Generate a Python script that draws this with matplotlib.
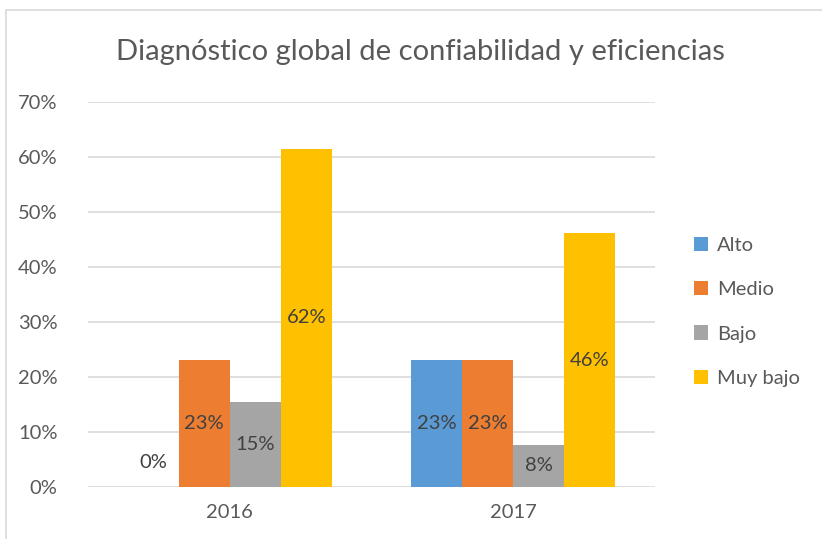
import matplotlib

matplotlib.use("Agg")
import matplotlib.pyplot as plt
from matplotlib.patches import Rectangle
from matplotlib.ticker import PercentFormatter
import numpy as np

years = ["2016", "2017"]
levels = ["Alto", "Medio", "Bajo", "Muy bajo"]
alto = [0.0, 0.2308]
medio = [0.2308, 0.2308]
bajo = [0.1538, 0.0769]
muy_bajo = [0.6154, 0.4615]
colors = ["#5B9BD5", "#ED7D31", "#A5A5A5", "#FFC000"]

plt.rcParams["font.family"] = ["Lato", "DejaVu Sans"]

fig = plt.figure(figsize=(8.22, 5.39), dpi=100)
ax = fig.add_axes([88 / 822, 1 - 487 / 539, (655 - 88) / 822, (487 - 102) / 539])

# outer chart border, like the Excel chart frame
fig.patches.append(
    Rectangle((6 / 822, -0.1), 1.2, 1.1 - 10 / 539, transform=fig.transFigure,
              fill=False, edgecolor="#D9D9D9", linewidth=1.2)
)

x = np.arange(len(years))
width = 0.18
series = [alto, medio, bajo, muy_bajo]
for i, (name, vals, col) in enumerate(zip(levels, series, colors)):
    pos = x + (i - 1.5) * width
    ax.bar(pos, vals, width, color=col, label=name, zorder=2)
    for px, v in zip(pos, vals):
        if v == 0:
            ax.annotate(f"{v:.0%}", (px, 0), xytext=(0, 18), textcoords="offset points",
                        ha="center", va="center", fontsize=14.5, color="#404040")
        else:
            ax.text(px, v / 2, f"{v:.0%}", ha="center", va="center",
                    fontsize=14.5, color="#404040", zorder=3)

ax.set_xlim(-0.5, 1.5)
ax.set_ylim(0, 0.7)
ax.set_yticks(np.arange(0, 0.71, 0.1))
ax.yaxis.set_major_formatter(PercentFormatter(1.0, decimals=0))
ax.set_xticks(x)
ax.set_xticklabels(years)
ax.tick_params(axis="both", length=0, labelsize=14.5, colors="#595959")
ax.tick_params(axis="y", pad=22)
ax.tick_params(axis="x", pad=12)
ax.grid(axis="y", color="#D9D9D9", linewidth=1.2, zorder=0)
for s in ax.spines.values():
    s.set_visible(False)

fig.text(420 / 822, 1 - 52 / 539, "Diagnóstico global de confiabilidad y eficiencias",
         ha="center", va="center", fontsize=21, color="#595959")

ax.legend(loc="center left", bbox_to_anchor=(1.037, 0.5 - 0.045), frameon=False,
          fontsize=14.5, handlelength=0.7, handleheight=0.7, handletextpad=0.45,
          labelspacing=1.35, labelcolor="#595959")

fig.savefig("out.png", dpi=100)
